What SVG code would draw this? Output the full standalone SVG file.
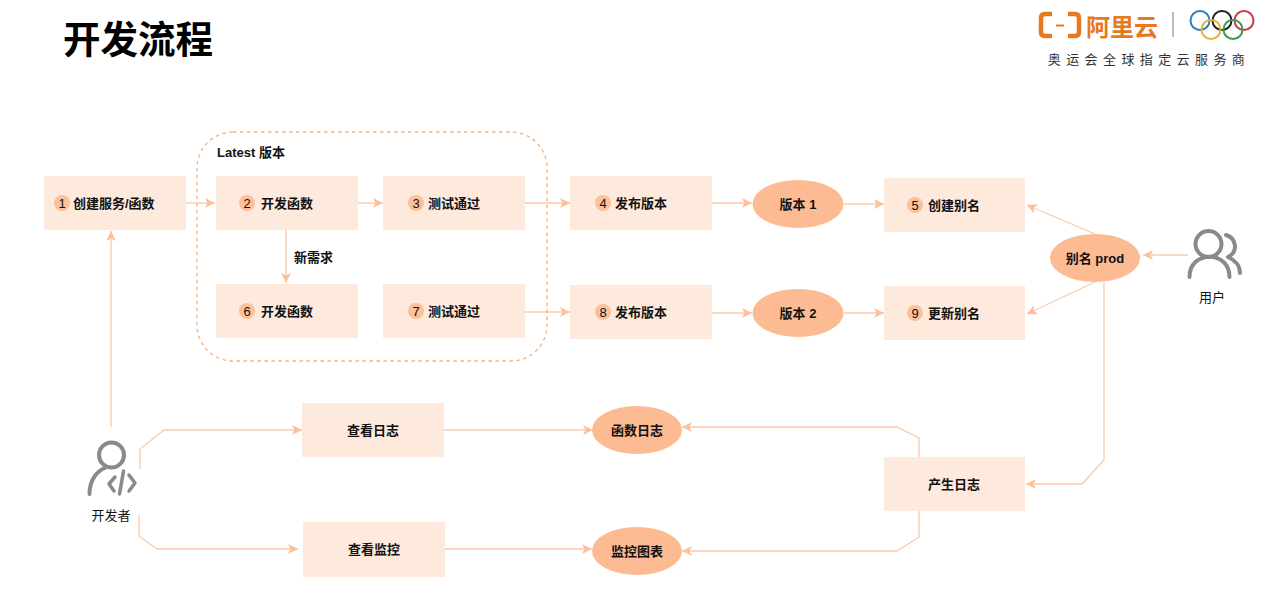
<svg xmlns="http://www.w3.org/2000/svg" width="1277" height="591" viewBox="0 0 1277 591">
<style>
text{font-family:"Liberation Sans","Noto Sans CJK SC",sans-serif;fill:#111}
.l{font-size:13px;font-weight:700;font-family:"Liberation Sans","Noto Sans CJK SC",sans-serif}
.c{text-anchor:middle}
.b{fill:#fee9dd}
.e{fill:#fcbb92}
.n{fill:#fcc09a}
.d{font-size:13px;font-weight:400;text-anchor:middle}
.w{fill:none;stroke:#fbcaab;stroke-width:1.3}
.g{fill:none;stroke:#8a8a8a;stroke-width:4;stroke-linecap:round;stroke-linejoin:round}
.r{fill:none;stroke-width:2}
</style>
<defs>
<marker id="a" markerUnits="userSpaceOnUse" markerWidth="12" markerHeight="12" refX="10" refY="6" orient="auto">
<path d="M0 1L10 6L0 11L2.500 6Z" fill="#fcc09a"/>
</marker>
</defs>
<rect width="1277" height="591" fill="#fff"/>
<text id="title" x="63" y="53" style="font-size:37.500px;font-weight:700;fill:#000">开发流程</text>

<g id="logo">
<path d="M1052 14H1045Q1041 14 1041 18V32Q1041 36 1045 36H1052M1068 14H1075Q1079 14 1079 18V32Q1079 36 1075 36H1068" fill="none" stroke="#e8791f" stroke-width="4.500"/>
<path d="M1056 25.500H1064" stroke="#e8791f" stroke-width="2"/>
<text x="1086" y="36" style="font-size:24px;font-weight:700;fill:#e8791f">阿里云</text>
<path d="M1173 12V37" stroke="#777" stroke-width="1"/>
<circle class="r" cx="1200" cy="20.500" r="9.500" stroke="#2b7fc2"/>
<circle class="r" cx="1222" cy="20.500" r="9.500" stroke="#222"/>
<circle class="r" cx="1244" cy="20.500" r="9.500" stroke="#c8394b"/>
<circle class="r" cx="1211" cy="29.500" r="9.500" stroke="#e8b13c"/>
<circle class="r" cx="1233" cy="29.500" r="9.500" stroke="#3a9a4d"/>
<text x="1149" y="64" class="c" style="font-size:13px;letter-spacing:5.400px;fill:#333">奥运会全球指定云服务商</text>
</g>

<g id="connectors">
<path class="w" d="M186 203H215" marker-end="url(#a)"/>
<path class="w" d="M357 203H383" marker-end="url(#a)"/>
<path class="w" d="M525 203H570" marker-end="url(#a)"/>
<path class="w" d="M712 203H752" marker-end="url(#a)"/>
<path class="w" d="M844 204H884" marker-end="url(#a)"/>
<path class="w" d="M286 230V283" marker-end="url(#a)"/>
<path class="w" d="M525 312H570" marker-end="url(#a)"/>
<path class="w" d="M712 313H752" marker-end="url(#a)"/>
<path class="w" d="M844 313H884" marker-end="url(#a)"/>
<path class="w" d="M1095 234L1027 205" marker-end="url(#a)"/>
<path class="w" d="M1095 282L1027 314" marker-end="url(#a)"/>
<path class="w" d="M1188 255H1143" marker-end="url(#a)"/>
<path class="w" d="M1104 282V460L1082 484H1026" marker-end="url(#a)"/>
<path class="w" d="M111 427V231" marker-end="url(#a)"/>
<path class="w" d="M140 469V449L164 430H302" marker-end="url(#a)"/>
<path class="w" d="M139 515V536L157 549H298" marker-end="url(#a)"/>
<path class="w" d="M444 430H593" marker-end="url(#a)"/>
<path class="w" d="M445 549H592" marker-end="url(#a)"/>
<path class="w" d="M919 457V438L897 427H682" marker-end="url(#a)"/>
<path class="w" d="M919 511V537L897 551H682" marker-end="url(#a)"/>
</g>

<g id="latest">
<rect x="197" y="132" width="350" height="229" rx="36" fill="none" stroke="#f5b083" stroke-width="1.300" stroke-dasharray="3.500 3.500"/>
<text x="217" y="157" class="l">Latest 版本</text>
</g>

<g id="n1"><rect class="b" x="44" y="176" width="142" height="54"/><circle class="n" cx="62" cy="203" r="8"/><text x="62" y="207.500" class="d">1</text><text x="73" y="207.500" class="l">创建服务/函数</text></g>
<g id="n2"><rect class="b" x="216" y="176" width="142" height="54"/><circle class="n" cx="247" cy="203" r="8"/><text x="247" y="207.500" class="d">2</text><text x="261" y="207.500" class="l">开发函数</text></g>
<g id="n3"><rect class="b" x="383" y="176" width="142" height="54"/><circle class="n" cx="416" cy="203" r="8"/><text x="416" y="207.500" class="d">3</text><text x="428" y="207.500" class="l">测试通过</text></g>
<g id="n4"><rect class="b" x="570" y="176" width="142" height="54"/><circle class="n" cx="603" cy="203" r="8"/><text x="603" y="207.500" class="d">4</text><text x="615" y="207.500" class="l">发布版本</text></g>
<g id="n5"><rect class="b" x="884" y="178" width="141" height="54"/><circle class="n" cx="915" cy="205" r="8"/><text x="915" y="209.500" class="d">5</text><text x="928" y="209.500" class="l">创建别名</text></g>
<g id="n6"><rect class="b" x="216" y="284" width="142" height="54"/><circle class="n" cx="247" cy="311" r="8"/><text x="247" y="315.500" class="d">6</text><text x="261" y="315.500" class="l">开发函数</text></g>
<g id="n7"><rect class="b" x="383" y="284" width="142" height="54"/><circle class="n" cx="416" cy="311" r="8"/><text x="416" y="315.500" class="d">7</text><text x="428" y="315.500" class="l">测试通过</text></g>
<g id="n8"><rect class="b" x="570" y="285" width="142" height="54"/><circle class="n" cx="603" cy="312" r="8"/><text x="603" y="316.500" class="d">8</text><text x="615" y="316.500" class="l">发布版本</text></g>
<g id="n9"><rect class="b" x="884" y="286" width="141" height="54"/><circle class="n" cx="915" cy="313" r="8"/><text x="915" y="317.500" class="d">9</text><text x="928" y="317.500" class="l">更新别名</text></g>

<g id="v1"><ellipse class="e" cx="798" cy="204" rx="45.500" ry="24"/><text x="798" y="208.500" class="l c">版本 1</text></g>
<g id="v2"><ellipse class="e" cx="798" cy="313" rx="45.500" ry="24"/><text x="798" y="317.500" class="l c">版本 2</text></g>
<g id="alias"><ellipse class="e" cx="1095" cy="258" rx="45" ry="24"/><text x="1095" y="262.500" class="l c">别名 prod</text></g>
<text x="294" y="261.500" class="l">新需求</text>

<g id="logs"><rect class="b" x="302" y="403" width="142" height="54"/><text x="373" y="435" class="l c">查看日志</text></g>
<g id="monitor"><rect class="b" x="303" y="522" width="142" height="55"/><text x="374" y="554" class="l c">查看监控</text></g>
<g id="gen"><rect class="b" x="884" y="457" width="141" height="54"/><text x="954" y="488.500" class="l c">产生日志</text></g>
<g id="flog"><ellipse class="e" cx="637" cy="430" rx="45" ry="24"/><text x="637" y="434.500" class="l c">函数日志</text></g>
<g id="chart"><ellipse class="e" cx="637" cy="551" rx="45" ry="24"/><text x="637" y="555.500" class="l c">监控图表</text></g>

<g id="user">
<circle class="g" cx="1208.500" cy="244" r="13"/>
<path class="g" d="M1189.500 277C1189.500 250 1229.500 250 1229.500 277"/>
<path class="g" d="M1226 235C1236 238 1239 251 1228 257C1235 260 1240 266 1240 273"/>
<text x="1212" y="302" class="d">用户</text>
</g>
<g id="dev">
<circle class="g" cx="111.500" cy="455" r="12.500"/>
<path class="g" d="M89.500 494C89.500 480 97 471 105 468"/>
<path class="g" style="stroke-width:3.500" d="M115 477L109 484L114 491M129 475L135 483L129 491M123.500 471L119.500 494"/>
<text x="111" y="520" class="d">开发者</text>
</g>
</svg>
